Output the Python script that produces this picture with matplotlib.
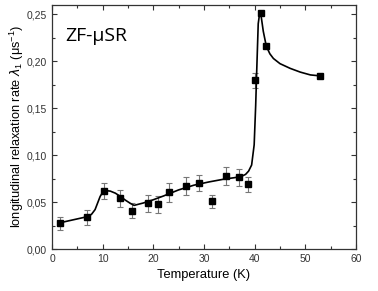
import matplotlib
matplotlib.use('Agg')
import matplotlib.pyplot as plt
from matplotlib.ticker import MultipleLocator, FuncFormatter

# measured points
temp = [1.6, 7.0, 10.3, 13.5, 15.7, 18.9, 21.0, 23.1, 26.4, 29.0, 31.6, 34.3, 36.9, 38.6, 40.1, 41.2, 42.3, 52.9]
rate = [0.0274, 0.0337, 0.0618, 0.0540, 0.0408, 0.0487, 0.0479, 0.0603, 0.0671, 0.0703, 0.0508, 0.0777, 0.0763, 0.0689, 0.1796, 0.2510, 0.2160, 0.1846]
err = [0.007, 0.008, 0.009, 0.009, 0.008, 0.009, 0.009, 0.010, 0.010, 0.009, 0.007, 0.010, 0.009, 0.008, 0.008, 0.0, 0.0, 0.0]

# guide line
curve_t = [1.6, 7.0, 7.8, 8.5, 9.0, 9.5, 10.0, 10.6, 11.5, 12.5, 13.5, 14.5, 15.5, 16.2, 18, 20, 22, 25, 28, 31, 34, 36, 37.3, 38.2, 38.8, 39.4, 39.9, 40.2, 40.4, 40.7, 41.0, 41.2, 41.7, 42.3, 43.0, 43.7, 45.0, 47.0, 49.0, 51.0, 52.9]
curve_r = [0.0280, 0.0345, 0.0370, 0.0420, 0.0490, 0.0560, 0.0605, 0.0622, 0.0617, 0.0595, 0.0560, 0.0520, 0.0485, 0.0465, 0.0490, 0.0525, 0.0565, 0.0630, 0.0680, 0.0715, 0.0745, 0.0760, 0.0772, 0.0795, 0.0830, 0.0895, 0.1110, 0.1530, 0.1890, 0.2400, 0.2520, 0.2510, 0.2320, 0.2160, 0.2080, 0.2030, 0.1975, 0.1925, 0.1885, 0.1855, 0.1845]

plt.rcParams['font.family'] = ['Liberation Sans', 'DejaVu Sans']

fig = plt.figure(figsize=(3.78, 2.91), dpi=100)
ax = fig.add_axes([0.1376, 0.1443, 0.8042, 0.8385])

ax.plot(curve_t, curve_r, color='black', lw=1.2, zorder=2)
ax.errorbar(temp, rate, yerr=err, fmt='none', ecolor='#777777', elinewidth=0.8, capsize=2.2, capthick=0.8, zorder=1)
ax.plot(temp, rate, 's', color='black', ms=4.8, zorder=3)

ax.set_xlim(0, 60)
ax.set_ylim(0, 0.26)
ax.xaxis.set_major_locator(MultipleLocator(10))
ax.xaxis.set_minor_locator(MultipleLocator(5))
ax.yaxis.set_major_locator(MultipleLocator(0.05))
ax.yaxis.set_minor_locator(MultipleLocator(0.025))
ax.yaxis.set_major_formatter(FuncFormatter(lambda v, p: f'{v:.2f}'.replace('.', ',')))
ax.tick_params(which='both', direction='in', top=True, right=True, labelsize=7.5, width=0.8, colors='#333333')
ax.tick_params(which='major', length=3.5)
ax.tick_params(which='minor', length=2)
for s in ax.spines.values():
    s.set_linewidth(0.9)
    s.set_color('#333333')

ax.set_xlabel('Temperature (K)', fontsize=9.3, labelpad=4)
ax.set_ylabel(r'longitudinal relaxation rate $\lambda_\mathregular{1}$ (μs$^\mathregular{-1}$)', fontsize=9.2, labelpad=1)
ax.text(0.043, 0.875, 'ZF-μSR', transform=ax.transAxes, fontsize=14, family='Open Sans', va='center')

fig.savefig('out.png', dpi=100)
